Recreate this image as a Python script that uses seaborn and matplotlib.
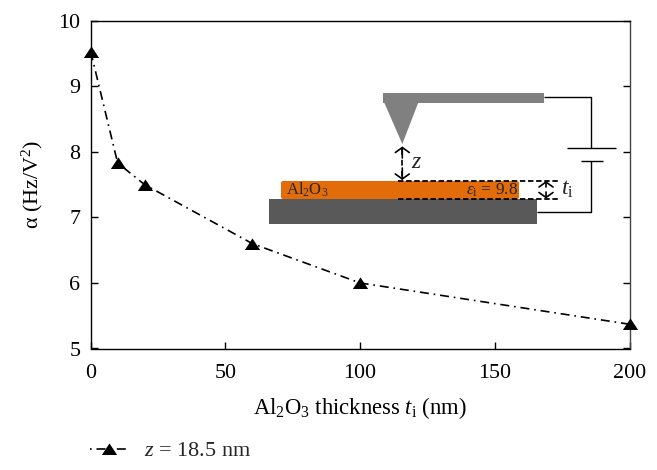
import pandas as pd
import matplotlib
matplotlib.use("Agg")
import matplotlib.pyplot as plt
from matplotlib.patches import Rectangle, Polygon, FancyBboxPatch
from matplotlib.transforms import Affine2D
import seaborn as sns

# === data
thickness = [0, 10, 20, 60, 100, 200]
alpha = [9.53, 7.83, 7.50, 6.60, 6.00, 5.37]
x_ticks = [0, 50, 100, 150, 200]
y_ticks = [5, 6, 7, 8, 9, 10]
series_label = r"$z$ = 18.5 nm"

df = pd.DataFrame({"t": thickness, "alpha": alpha})

sns.set_theme(style="ticks")
plt.rcParams["font.family"] = ["Liberation Serif", "DejaVu Serif"]
plt.rcParams["mathtext.fontset"] = "custom"
plt.rcParams["mathtext.rm"] = "Liberation Serif"
plt.rcParams["mathtext.it"] = "Liberation Serif:italic"
plt.rcParams["mathtext.bf"] = "Liberation Serif:bold"

W, H = 657, 470
fig = plt.figure(figsize=(W / 100, H / 100), dpi=100)
ax = fig.add_axes([90.7 / W, 1 - 348.5 / H, (629.5 - 90.7) / W, (348.5 - 20.7) / H])

dash_pattern = (5.4, 2.9, 1.0, 2.9)
flat_triangle = [(-1, -0.72), (1, -0.72), (0, 0.8)]
sns.lineplot(
    data=df, x="t", y="alpha", ax=ax, color="black", lw=1.2,
    linestyle=(0, dash_pattern), marker=flat_triangle, markersize=11,
    markeredgewidth=0, clip_on=False, zorder=5, label=series_label, errorbar=None,
)

ax.set_xlim(0, 200)
ax.set_ylim(5, 10)
ax.set_xticks(x_ticks)
ax.set_yticks(y_ticks)
ax.tick_params(direction="in", length=5, width=1, labelsize=15.8, colors="black",
               right=True, top=False)
ax.tick_params(axis="x", pad=11)
ax.tick_params(axis="y", pad=7.5)
for s in ax.spines.values():
    s.set_visible(True)
    s.set_linewidth(1.0)
    s.set_color("black")
ax.spines["right"].set_color("#444444")
ax.set_xlabel(r"Al$_2$O$_3$ thickness $t_{\mathrm{i}}$ (nm)", fontsize=16.3, labelpad=8.5, color="black")
ax.set_ylabel(r"$\mathrm{\alpha}$ (Hz/V$^2$)", fontsize=15.8, labelpad=9.5, color="black")

leg = ax.legend(loc="center left", bbox_to_anchor=(90 / W, 1 - 451 / H), bbox_transform=fig.transFigure,
                frameon=False, fontsize=16, handlelength=1.7, handletextpad=0.72,
                borderaxespad=0, borderpad=0)
leg.get_lines()[0].set_linestyle((8.3, dash_pattern))

# === AFM sketch, placed in image pixels
px = Affine2D().scale(1 / W, -1 / H).translate(0, 1) + fig.transFigure


def wire(xs, ys, **kw):
    kw.setdefault("color", "black")
    kw.setdefault("lw", 1.0)
    ax.plot(xs, ys, transform=px, clip_on=False, zorder=3, solid_capstyle="butt", **kw)


ax.add_patch(Rectangle((383, 92.5), 161, 10, transform=px, fc="#808080", ec="none", zorder=3))
ax.add_patch(Polygon([(384, 102), (418.5, 102), (402.3, 144)], transform=px, fc="#808080", ec="none", zorder=3))
ax.add_patch(Rectangle((269, 198.7), 268, 25.3, transform=px, fc="#595959", ec="none", zorder=3))
ax.add_patch(FancyBboxPatch((281, 181), 238, 18, boxstyle="round,pad=0,rounding_size=2", transform=px,
                            fc="#E36C0A", ec="none", zorder=3))

wire([544, 590.7, 590.7], [96.7, 96.7, 148.3])
wire([566.7, 616], [148.3, 148.3])
wire([580.7, 603.3], [161, 161])
wire([591.3, 591.3, 537], [161, 212.3, 212.3])

wire([398.3, 558.3], [180.7, 180.7], lw=1.3, ls=(0, (3, 1.5)))
wire([398.3, 558.3], [198.7, 198.7], lw=1.3, ls=(0, (3, 1.5)))
wire([402.3, 402.3], [149, 178], lw=1.2, ls=(0, (3.5, 3)))


def arrow(x, y0, y1):
    ax.annotate("", xy=(x, y1), xytext=(x, y0), xycoords=px, textcoords=px, zorder=4,
                arrowprops=dict(arrowstyle="->,head_length=0.3,head_width=0.42", lw=1.2, color="black",
                                shrinkA=0, shrinkB=0))


arrow(402.3, 158, 146.5)
arrow(402.3, 168, 180)
arrow(546, 187, 181)
arrow(546, 192, 198.5)

ax.text(411, 162, r"$z$", transform=px, fontsize=17, ha="left", va="center", zorder=4)
ax.text(561, 189, r"$t_{\mathrm{i}}$", transform=px, fontsize=17, ha="left", va="center", zorder=4)
ax.text(286, 190, r"Al$_2$O$_3$", transform=px, fontsize=12, ha="left", va="center", zorder=4)
ax.text(518, 190, "$\\epsilon_{\\mathrm{i}}$ = 9.8", transform=px, fontsize=12.5, ha="right", va="center", zorder=4)

plt.savefig("out.png", dpi=100)
